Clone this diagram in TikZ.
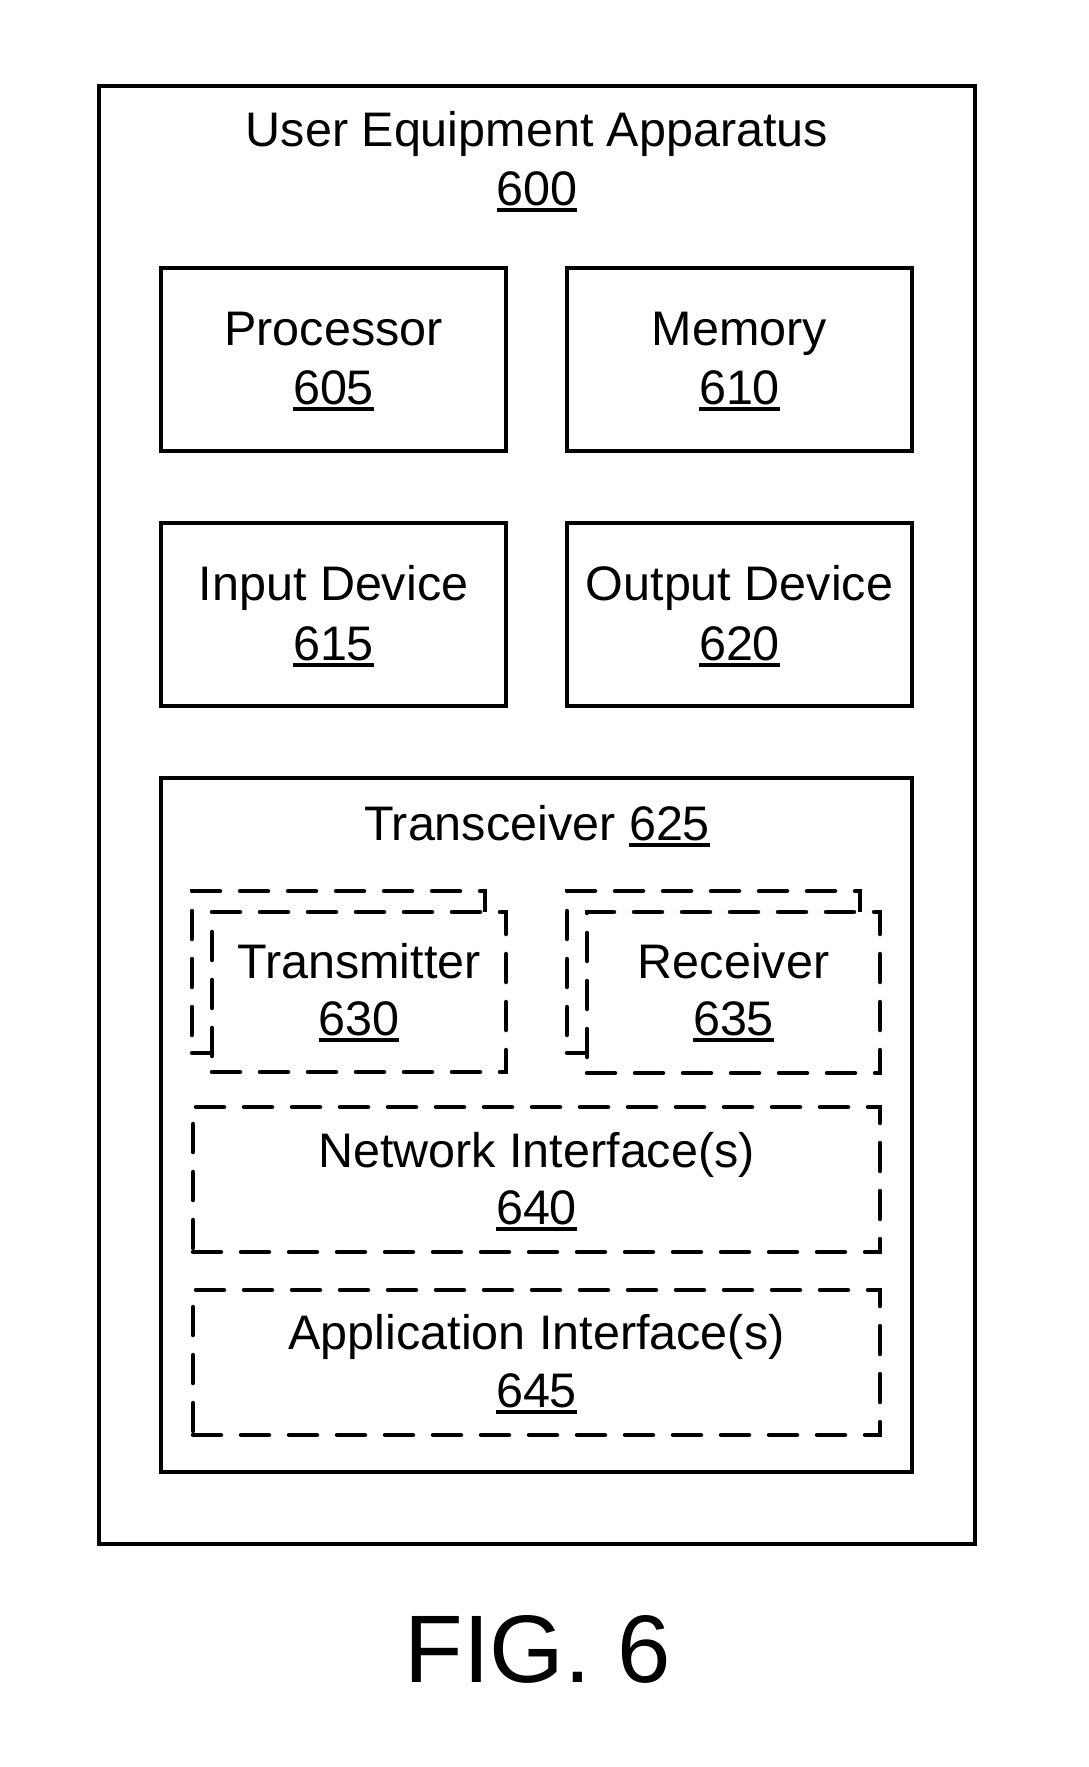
\documentclass[tikz,border=0pt]{standalone}
\usepackage{fontspec}
\setmainfont{Liberation Sans}
\usetikzlibrary{fit}
\newcommand{\unum}[1]{\setbox0=\hbox{#1}\rlap{\rule[-0.15em]{\wd0}{0.085em}}\box0}
\tikzset{
  solidbox/.style={draw, line width=4pt, inner sep=0pt, rectangle},
  dashbox/.style={draw, line width=4.5pt, inner sep=0pt, rectangle, dash pattern=on 28pt off 20pt, line cap=round},
  lbl/.style={anchor=base, inner sep=0pt, font=\fontsize{48.5}{58}\selectfont},
}
\begin{document}
\begin{tikzpicture}[x=1pt,y=-1pt]
\useasboundingbox (0,0) rectangle (1089,1767);
\fill[white] (0,0) rectangle (1089,1767);
% outer
\node[solidbox, fit={(99,86) (975,1544)}] (ue) {};
\node[lbl] (uet) at (537,146) {User Equipment Apparatus};
\node[lbl] (uen) at (537,205) {\unum{600}};
% processor / memory
\node[solidbox, fit={(161,268) (506,451)}] (proc) {};
\node[lbl] (proct) at (333.5,345) {Processor};
\node[lbl] (procn) at (333.5,404) {\unum{605}};
\node[solidbox, fit={(567,268) (912,451)}] (mem) {};
\node[lbl] (memt) at (739.5,345) {Memory};
\node[lbl] (memn) at (739.5,404) {\unum{610}};
% input / output
\node[solidbox, fit={(161,523) (506,706)}] (inp) {};
\node[lbl] (inpt) at (333.5,600) {Input Device};
\node[lbl] (inpn) at (333.5,660) {\unum{615}};
\node[solidbox, fit={(567,523) (912,706)}] (outp) {};
\node[lbl] (outpt) at (739.5,600) {Output Device};
\node[lbl] (outpn) at (739.5,660) {\unum{620}};
% transceiver
\node[solidbox, fit={(161,778) (912,1472)}] (trx) {};
\node[lbl] (trxt) at (537,840) {Transceiver \unum{625}};
% transmitter (stacked)
\node[dashbox, fit={(192,891) (485,1053)}] (txb) {};
\node[dashbox, fill=white, fit={(212,912) (506,1072)}] (tx) {};
\node[lbl] (txt) at (359,978) {Transmitter};
\node[lbl] (txn) at (359,1035) {\unum{630}};
% receiver (stacked)
\node[dashbox, fit={(567,891) (860,1053)}] (rxb) {};
\node[dashbox, fill=white, fit={(587,912) (880,1073)}] (rx) {};
\node[lbl] (rxt) at (733.5,978) {Receiver};
\node[lbl] (rxn) at (733.5,1035) {\unum{635}};
% network interface
\node[dashbox, fit={(193,1107) (880,1252)}] (net) {};
\node[lbl] (nett) at (536.5,1167) {Network Interface(s)};
\node[lbl] (netn) at (536.5,1224) {\unum{640}};
% application interface
\node[dashbox, fit={(193,1290) (880,1435)}] (app) {};
\node[lbl] (appt) at (536.5,1349) {Application Interface(s)};
\node[lbl] (appn) at (536.5,1407) {\unum{645}};
% caption
\node[anchor=base, inner sep=0pt, font=\fontsize{96}{112}\selectfont] (fig) at (538,1682) {FIG. 6};
\end{tikzpicture}
\end{document}
